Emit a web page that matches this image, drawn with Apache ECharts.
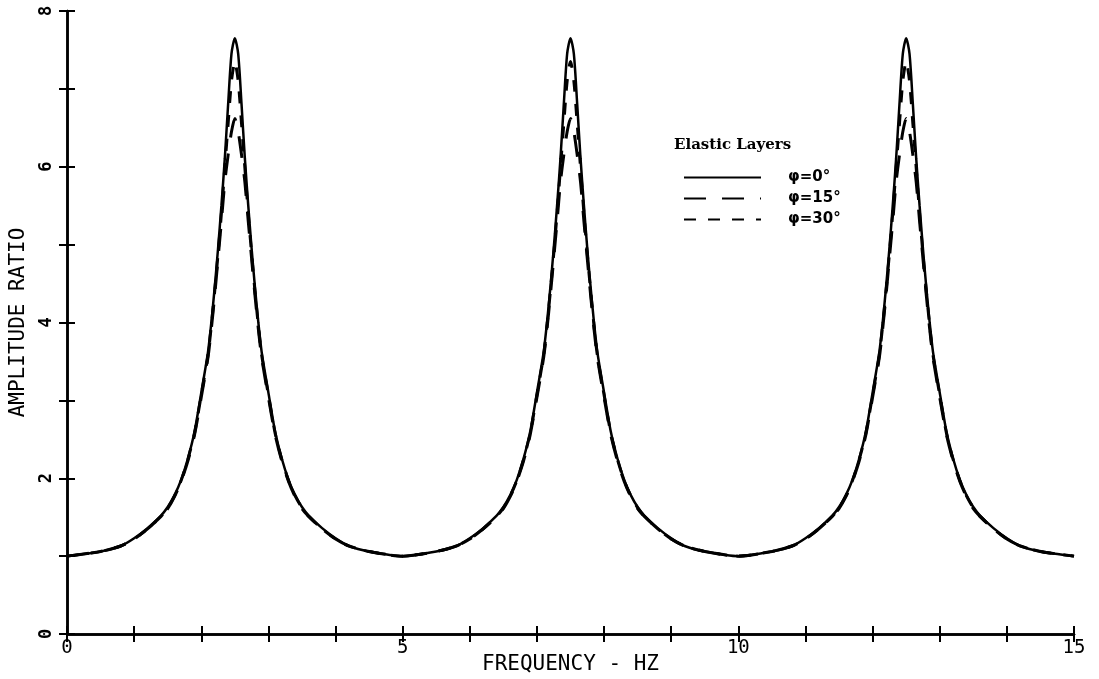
<!DOCTYPE html>
<html>
<head>
<meta charset="utf-8">
<script src="https://cdn.jsdelivr.net/npm/echarts@6/dist/echarts.min.js"></script>
<style>html,body{margin:0;padding:0;background:#fff}#c{width:1099px;height:679px}</style>
</head>
<body>
<div id="c"></div>
<script>
// Frequency (Hz) sample points
const freq = [
 0,0.5,0.8,1.0,1.2,1.4,1.5,1.6,1.7,1.8,1.9,2.0,2.1,2.15,2.2,2.25,2.3,2.35,2.4,2.45,2.5,2.55,2.6,2.65,2.7,2.75,2.8,2.85,2.9,3.0,3.1,3.2,3.3,3.4,3.5,3.6,3.8,4.0,4.2,4.5,5.0,
 5.5,5.8,6.0,6.2,6.4,6.5,6.6,6.7,6.8,6.9,7.0,7.1,7.15,7.2,7.25,7.3,7.35,7.4,7.45,7.5,7.55,7.6,7.65,7.7,7.75,7.8,7.85,7.9,8.0,8.1,8.2,8.3,8.4,8.5,8.6,8.8,9.0,9.2,9.5,10.0,
 10.5,10.8,11.0,11.2,11.4,11.5,11.6,11.7,11.8,11.9,12.0,12.1,12.15,12.2,12.25,12.3,12.35,12.4,12.45,12.5,12.55,12.6,12.65,12.7,12.75,12.8,12.85,12.9,13.0,13.1,13.2,13.3,13.4,13.5,13.6,13.8,14.0,14.2,14.5,15.0
];
// Amplitude ratio, phi = 0 deg (solid)
const ampPhi0 = [
 1.00,1.06,1.13,1.23,1.36,1.52,1.63,1.78,1.98,2.25,2.60,3.10,3.62,4.00,4.45,4.95,5.50,6.10,6.80,7.45,7.65,7.45,6.80,6.10,5.50,4.95,4.45,4.00,3.62,3.10,2.60,2.25,1.98,1.78,1.63,1.52,1.36,1.23,1.13,1.06,1.00,
 1.06,1.13,1.23,1.36,1.52,1.63,1.78,1.98,2.25,2.60,3.10,3.62,4.00,4.45,4.95,5.50,6.10,6.80,7.45,7.65,7.45,6.80,6.10,5.50,4.95,4.45,4.00,3.62,3.10,2.60,2.25,1.98,1.78,1.63,1.52,1.36,1.23,1.13,1.06,1.00,
 1.06,1.13,1.23,1.36,1.52,1.63,1.78,1.98,2.25,2.60,3.10,3.62,4.00,4.45,4.95,5.50,6.10,6.80,7.45,7.65,7.45,6.80,6.10,5.50,4.95,4.45,4.00,3.62,3.10,2.60,2.25,1.98,1.78,1.63,1.52,1.36,1.23,1.13,1.06,1.00
];
// phi = 15 deg (long dashes)
const ampPhi15 = [
 1.00,1.06,1.13,1.22,1.35,1.51,1.61,1.76,1.96,2.22,2.56,3.04,3.55,3.92,4.35,4.82,5.30,5.80,6.15,6.45,6.62,6.45,6.15,5.80,5.30,4.82,4.35,3.92,3.55,3.04,2.56,2.22,1.96,1.76,1.61,1.51,1.35,1.22,1.13,1.06,1.00,
 1.06,1.13,1.22,1.35,1.51,1.61,1.76,1.96,2.22,2.56,3.04,3.55,3.92,4.35,4.82,5.30,5.80,6.15,6.45,6.62,6.45,6.15,5.80,5.30,4.82,4.35,3.92,3.55,3.04,2.56,2.22,1.96,1.76,1.61,1.51,1.35,1.22,1.13,1.06,1.00,
 1.06,1.13,1.22,1.35,1.51,1.61,1.76,1.96,2.22,2.56,3.04,3.55,3.92,4.35,4.82,5.30,5.80,6.15,6.45,6.62,6.45,6.15,5.80,5.30,4.82,4.35,3.92,3.55,3.04,2.56,2.22,1.96,1.76,1.61,1.51,1.35,1.22,1.13,1.06,1.00
];
// phi = 30 deg (short dashes)
const ampPhi30 = [
 1.00,1.06,1.13,1.22,1.35,1.51,1.62,1.77,1.97,2.24,2.58,3.07,3.58,3.96,4.40,4.88,5.40,5.98,6.55,7.10,7.35,7.10,6.55,5.98,5.40,4.88,4.40,3.96,3.58,3.07,2.58,2.24,1.97,1.77,1.62,1.51,1.35,1.22,1.13,1.06,1.00,
 1.06,1.13,1.22,1.35,1.51,1.62,1.77,1.97,2.24,2.58,3.07,3.58,3.96,4.40,4.88,5.40,5.98,6.55,7.10,7.35,7.10,6.55,5.98,5.40,4.88,4.40,3.96,3.58,3.07,2.58,2.24,1.97,1.77,1.62,1.51,1.35,1.22,1.13,1.06,1.00,
 1.06,1.13,1.22,1.35,1.51,1.62,1.77,1.97,2.24,2.58,3.07,3.58,3.96,4.40,4.88,5.40,5.98,6.55,7.10,7.35,7.10,6.55,5.98,5.40,4.88,4.40,3.96,3.58,3.07,2.58,2.24,1.97,1.77,1.62,1.51,1.35,1.22,1.13,1.06,1.00
];
const seriesNames = ['φ=0°', 'φ=15°', 'φ=30°'];
const xLabelValues = [0, 5, 10, 15];
const yLabelValues = [0, 2, 4, 6, 8];

const pair = (ys) => freq.map((f, i) => [f, ys[i]]);
const FONT = 'DejaVu Sans Mono';

const chart = echarts.init(document.getElementById('c'), null, {renderer: 'canvas'});
const axisLine = {show: true, lineStyle: {color: '#000', width: 2.5}};
const ticks = {show: true, inside: true, length: 8, lineStyle: {color: '#000', width: 2}};
chart.setOption({
  animation: false,
  backgroundColor: '#fff',
  color: ['#000', '#000', '#000'],
  title: {
    text: 'Elastic Layers', left: 669, top: 133,
    textStyle: {fontFamily: 'DejaVu Serif', fontWeight: 'bold', fontSize: 15, color: '#000'}
  },
  legend: {
    orient: 'vertical', left: 678, top: 165, itemWidth: 77, itemHeight: 14, itemGap: 6,
    data: seriesNames,
    itemStyle: {opacity: 0, borderWidth: 0},
    textStyle: {fontFamily: 'DejaVu Sans', fontWeight: 'bold', fontSize: 15, color: '#000', padding: [0, 0, 0, 22]}
  },
  grid: {left: 67, right: 25, top: 11, bottom: 45, containLabel: false, outerBoundsMode: 'none'},
  xAxis: [{
    type: 'value', min: 0, max: 15, interval: 1, position: 'bottom',
    name: 'FREQUENCY - HZ', nameLocation: 'middle', nameGap: 20, nameMoveOverlap: false,
    nameTextStyle: {fontFamily: FONT, fontSize: 21, color: '#000'},
    axisLine, axisTick: ticks, splitLine: {show: false},
    axisLabel: {
      margin: 5, fontFamily: FONT, fontSize: 19, color: '#000',
      formatter: v => xLabelValues.includes(v) ? String(v) : ''
    }
  }, {
    type: 'value', min: 0, max: 15, interval: 1, position: 'top',
    axisLine, axisTick: ticks, axisLabel: {show: false}, splitLine: {show: false}
  }],
  yAxis: [{
    type: 'value', min: 0, max: 8, interval: 1, position: 'left',
    name: 'AMPLITUDE RATIO', nameLocation: 'middle', nameGap: 38, nameMoveOverlap: false,
    nameTextStyle: {fontFamily: FONT, fontSize: 21, color: '#000'},
    axisLine, axisTick: ticks, splitLine: {show: false},
    axisLabel: {
      margin: 12, rotate: 90, fontFamily: FONT, fontSize: 17, color: '#000', fontWeight: 'bold',
      formatter: v => yLabelValues.includes(v) ? String(v) : ''
    }
  }, {
    type: 'value', min: 0, max: 8, interval: 1, position: 'right',
    axisLine, axisTick: ticks, axisLabel: {show: false}, splitLine: {show: false}
  }],
  series: [
    {name: seriesNames[1], type: 'line', data: pair(ampPhi15), symbol: 'none', smooth: 0.25,
     itemStyle: {color: '#000'}, lineStyle: {color: '#000', width: 3, type: [22, 16]}},
    {name: seriesNames[2], type: 'line', data: pair(ampPhi30), symbol: 'none', smooth: 0.25,
     itemStyle: {color: '#000'}, lineStyle: {color: '#000', width: 3, type: [12, 12]}},
    {name: seriesNames[0], type: 'line', data: pair(ampPhi0), symbol: 'none', smooth: 0.25,
     itemStyle: {color: '#000'}, lineStyle: {color: '#000', width: 2.5, type: 'solid'}}
  ]
});
</script>
</body>
</html>
